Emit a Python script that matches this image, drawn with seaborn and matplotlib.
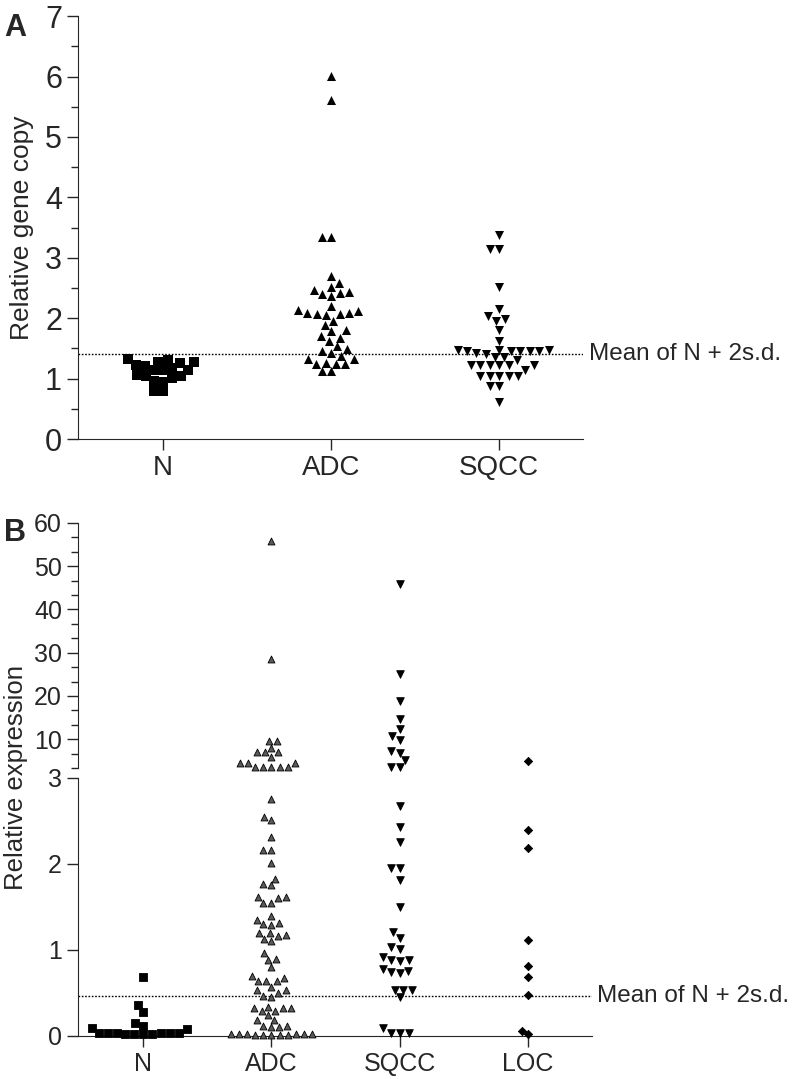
import numpy as np
import pandas as pd
import matplotlib
matplotlib.use("Agg")
import matplotlib.pyplot as plt
from matplotlib.ticker import MultipleLocator
import seaborn as sns

sns.set_style("ticks")
plt.rcParams['font.family'] = ['Liberation Sans', 'DejaVu Sans']

# Panel A: relative gene copy
cats_a = ["N", "ADC", "SQCC"]
n_copy = [1.21, 1.15, 1.27, 1.15, 1.01, 1.26, 1.06, 0.95, 1.31, 1.28, 1.32,
          1.05, 1.05, 0.79, 0.79, 1.15, 0.96, 1.17, 1.23]
adc_copy = [6.01, 5.61, 3.34, 3.34, 2.70, 2.59, 2.47, 2.42, 2.36, 2.40, 2.44,
            2.51, 2.13, 2.09, 2.07, 2.06, 1.96, 2.07, 2.09, 2.12, 2.20, 1.89,
            1.78, 1.68, 1.70, 1.80, 1.62, 1.49, 1.42, 1.38, 1.45, 1.54, 1.32,
            1.26, 1.25, 1.12, 1.13, 1.25, 1.25, 1.33]
sqcc_copy = [3.37, 3.15, 3.15, 2.52, 2.15, 1.98, 1.95, 2.03, 1.81, 1.63, 1.47,
             1.35, 1.45, 1.30, 1.45, 1.47, 1.42, 1.40, 1.45, 1.45, 1.45, 1.48,
             1.35, 1.22, 1.22, 1.22, 1.22, 1.22, 1.15, 1.22, 1.05, 1.05, 1.05,
             1.05, 1.05, 0.87, 0.87, 0.62]
cutoff_a = 1.4

# Panel B: relative expression (broken axis at 3)
cats_b = ["N", "ADC", "SQCC", "LOC"]
n_expr = [0.69, 0.36, 0.28, 0.15, 0.12, 0.09, 0.08, 0.03, 0.02, 0.04, 0.03,
          0.02, 0.03, 0.04, 0.02, 0.03, 0.02]
adc_expr = [55.8, 28.6, 9.7, 9.7, 8.0, 7.0, 7.0, 7.0, 6.0, 4.5, 4.5, 4.5,
            3.5, 3.5, 3.5, 3.5, 3.5,
            2.76, 2.55, 2.51, 2.31, 2.16, 2.16, 2.01, 1.83, 1.75, 1.77, 1.62,
            1.55, 1.55, 1.60, 1.62, 1.39, 1.31, 1.29, 1.30, 1.35, 1.20, 1.17,
            1.13, 1.10, 1.16, 1.20, 0.96, 0.90, 0.88, 0.80, 0.70, 0.67, 0.64,
            0.64, 0.64, 0.53, 0.50, 0.45, 0.47, 0.53, 0.57, 0.32, 0.29, 0.32,
            0.34, 0.24, 0.29, 0.32, 0.18, 0.18, 0.12, 0.12, 0.10, 0.10, 0.02,
            0.01, 0.02, 0.01, 0.02, 0.01, 0.02, 0.01, 0.02, 0.01, 0.02]
sqcc_expr = [46.0, 25.0, 18.8, 14.6, 12.3, 10.7, 9.8, 7.2, 6.8, 5.1, 3.6, 3.6,
             2.67, 2.43, 2.26, 1.95, 1.95, 1.81, 1.50, 1.21, 1.14, 1.04, 1.01,
             0.87, 0.88, 0.88, 0.92, 0.76, 0.73, 0.74, 0.78, 0.54, 0.53, 0.54,
             0.45, 0.04, 0.04, 0.04, 0.09]
loc_expr = [4.9, 2.40, 2.19, 1.12, 0.81, 0.68, 0.48, 0.06, 0.02]
cutoff_b = 0.47

label_txt = "Mean of N + 2s.d."

fig = plt.figure(figsize=(8.02, 10.79), dpi=100)

# ---------- Panel A ----------
axA = fig.add_axes([0.0973, 0.5931, 0.630, 0.392])
for cat, vals, mk in zip(cats_a, [n_copy, adc_copy, sqcc_copy], ["s", "^", "v"]):
    sns.swarmplot(x=[cat] * len(vals), y=vals, order=cats_a, marker=mk,
                  color="black", size=6.5, ax=axA)
axA.axhline(cutoff_a, color="black", ls=(0, (1.2, 1.2)), lw=1)
axA.text(1.012, cutoff_a, label_txt, transform=axA.get_yaxis_transform(),
         va="center", ha="left", fontsize=17.5)
axA.set_xlim(-0.506, 2.5)
axA.set_ylim(0, 7)
axA.yaxis.set_major_locator(MultipleLocator(1))
axA.yaxis.set_minor_locator(MultipleLocator(0.5))
axA.set_ylabel("Relative gene copy", fontsize=19, labelpad=8)
axA.set_xlabel("")
axA.tick_params(axis="y", which="major", labelsize=22, length=8, width=1)
axA.tick_params(axis="x", which="major", labelsize=20, length=8, width=1)
axA.tick_params(axis="y", which="minor", length=5, width=1)
sns.despine(ax=axA)
fig.text(0.005, 0.988, "A", fontsize=22, fontweight="bold", va="top")

# ---------- Panel B ----------
axU = fig.add_axes([0.0973, 0.2882, 0.641, 0.2271])
axL = fig.add_axes([0.0973, 0.0399, 0.641, 0.2391])

groups_b = [n_expr, adc_expr, sqcc_expr, loc_expr]
markers_b = ["s", "^", "v", "D"]
colors_b = ["black", "#5a5a5a", "black", "black"]
sizes_b = [5.5, 5, 5.5, 4.2]
for cat, vals, mk, col, sz in zip(cats_b, groups_b, markers_b, colors_b, sizes_b):
    hi = [v for v in vals if v > 3]
    lo = [v for v in vals if v <= 3]
    if hi:
        sns.swarmplot(x=[cat] * len(hi), y=hi, order=cats_b, marker=mk, color=col,
                      size=sz, edgecolor="black", linewidth=0.6, ax=axU)
    sns.swarmplot(x=[cat] * len(lo), y=lo, order=cats_b, marker=mk, color=col,
                  size=sz, edgecolor="black", linewidth=0.6, ax=axL)

for ax in (axU, axL):
    ax.set_xlim(-0.508, 3.5)
    ax.set_xlabel("")
    for coll in ax.collections:
        coll.set_clip_on(False)

axU.set_ylim(10 / 3, 60)
axU.yaxis.set_minor_locator(MultipleLocator(10 / 3))
axU.set_yticks([10, 20, 30, 40, 50, 60])
axU.tick_params(axis="y", which="major", labelsize=18, length=8, width=1)
axU.tick_params(axis="y", which="minor", length=5, width=1)
axU.tick_params(axis="x", bottom=False, labelbottom=False)
sns.despine(ax=axU, bottom=True)

axL.set_ylim(0, 3)
axL.set_yticks([0, 1, 2, 3])
axL.axhline(cutoff_b, color="black", ls=(0, (1.2, 1.2)), lw=1)
axL.text(1.01, cutoff_b, label_txt, transform=axL.get_yaxis_transform(),
         va="center", ha="left", fontsize=17.5)
axL.tick_params(axis="both", which="major", labelsize=18, length=8, width=1)
sns.despine(ax=axL)

fig.text(0.02, 1 - 778 / 1079, "Relative expression", rotation=90,
         va="center", ha="center", fontsize=18.5)
fig.text(0.005, 1 - 518 / 1079, "B", fontsize=22, fontweight="bold", va="top")

fig.savefig("out.png", dpi=100)
